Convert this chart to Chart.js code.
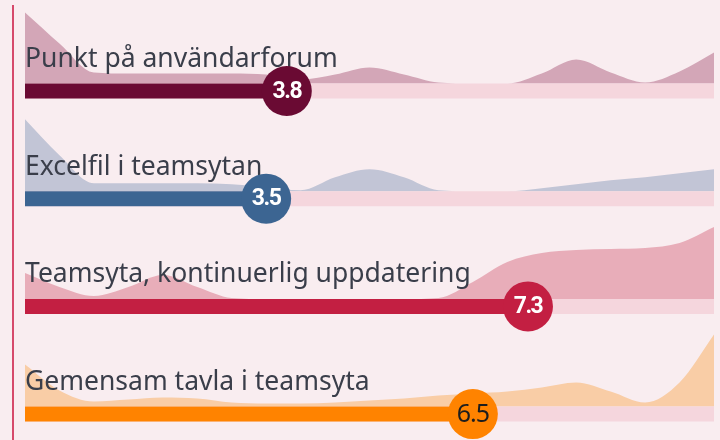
<!DOCTYPE html>
<html>
<head>
<meta charset="utf-8">
<script src="https://cdn.jsdelivr.net/npm/chart.js@4.4.1/dist/chart.umd.min.js"></script>
<style>
    html, body { margin: 0; padding: 0; background: #f9edf0; }
    #wrap { position: relative; width: 720px; height: 440px; }
    #rule { position: absolute; left: 12px; top: 5px; width: 2px; height: 435px; background: #d64a6b; }
    canvas { position: absolute; left: 0; top: 0; }
</style>
</head>
<body>
<div id="wrap">
    <div id="rule"></div>
    <canvas id="chart" width="720" height="440"></canvas>
</div>
<script>
// answer categories and their average score (0-10)
const categories = [
    'Punkt på användarforum',
    'Excelfil i teamsytan',
    'Teamsyta, kontinuerlig uppdatering',
    'Gemensam tavla i teamsyta'
];
const scores = [3.8, 3.5, 7.3, 6.5];

// score positions where the answer distribution is sampled
const scorePoints = [0, 0.5, 1, 1.5, 2, 2.5, 3, 3.5, 4, 4.5, 5, 5.5, 6, 6.5, 7, 7.5, 8, 8.5, 9, 9.5, 10];

// distribution of answers along the scale, one list per category
const distPunkt    = [71, 40, 11, 10, 10, 10, 10, 9, 4, 9, 16, 9, 1, 0, 0, 10, 24, 11, 1, 12, 31];
const distExcel    = [72, 36, 8, 8, 8, 8, 7, 4, 1, 14, 22, 14, 1, 0, 0, 3, 7, 11, 14, 18, 22];
const distTeamsyta = [26, 12, 3, 12, 24, 12, 1, 0, 0, 0, 0, 0, 1, 17, 37, 46, 49, 50, 51, 56, 72];
const distTavla    = [42, 16, 5, 7, 9, 8, 4, 3, 3, 4, 6, 8, 11, 13, 15, 19, 24, 15, 4, 24, 72];

const distributions = [distPunkt, distExcel, distTeamsyta, distTavla];

const darkColors = ['#6a0a33', '#3c6592', '#c31f42', '#ff8300'];
const areaColors = ['#d3a6b7', '#c2c5d6', '#e8adb9', '#f9cda6'];
const trackColor = '#f5d6dd';
const valueTextColors = ['#ffffff', '#ffffff', '#ffffff', '#1d1d1d'];

const ROW_STEP = 107.7;
const BAR_WIDTH = 15;

let datasets = [];
categories.forEach((name, i) => {
    const center = i * ROW_STEP;
    const base = center - BAR_WIDTH / 2;
    datasets.push({
        role: 'area',
        data: scorePoints.map((x, k) => ({x: x, y: base - distributions[i][k]})),
        fill: {value: base},
        backgroundColor: areaColors[i],
        borderWidth: 0,
        pointRadius: 0,
        cubicInterpolationMode: 'monotone',
        order: 4
    });
    datasets.push({
        role: 'track',
        data: [{x: 0, y: center}, {x: 10, y: center}],
        borderColor: trackColor,
        borderWidth: BAR_WIDTH,
        pointRadius: 0,
        fill: false,
        order: 3
    });
    datasets.push({
        role: 'bar',
        data: [{x: 0, y: center}, {x: scores[i], y: center}],
        borderColor: darkColors[i],
        borderWidth: BAR_WIDTH,
        pointRadius: 0,
        fill: false,
        order: 2
    });
    datasets.push({
        role: 'dot',
        row: i,
        data: [{x: scores[i], y: center}],
        showLine: false,
        pointRadius: 25,
        pointBackgroundColor: darkColors[i],
        pointBorderWidth: 0,
        clip: false,
        order: 1
    });
});

let labelsDrawn = false;
const labelPlugin = {
    id: 'labels',
    beforeDatasetsDraw() { labelsDrawn = false; },
    beforeDatasetDraw(chart, args) {
        const ds = chart.data.datasets[args.index];
        if (ds.role !== 'track' || labelsDrawn) return;
        labelsDrawn = true;
        const ctx = chart.ctx;
        const y = chart.scales.y;
        const left = chart.chartArea.left;
        ctx.save();
        ctx.font = '400 26.5px "Noto Sans"';
        ctx.fillStyle = '#3a3e4a';
        ctx.textAlign = 'left';
        ctx.textBaseline = 'alphabetic';
        categories.forEach((name, i) => {
            ctx.fillText(name, left, y.getPixelForValue(i * ROW_STEP) - 24);
        });
        ctx.restore();
    },
    afterDatasetsDraw(chart) {
        const ctx = chart.ctx;
        ctx.save();
        ctx.textAlign = 'center';
        ctx.textBaseline = 'middle';
        chart.data.datasets.forEach((ds, idx) => {
            if (ds.role !== 'dot') return;
            const pt = chart.getDatasetMeta(idx).data[0];
            const i = ds.row;
            ctx.fillStyle = valueTextColors[i];
            if (i === 3) {
                ctx.font = '400 25px "Noto Sans"';
                ctx.letterSpacing = '-1px';
            } else {
                ctx.font = '700 23px Roboto';
                ctx.letterSpacing = '-1.5px';
            }
            ctx.fillText(scores[i].toFixed(1), pt.x, pt.y + 1);
        });
        ctx.restore();
    }
};

new Chart(document.getElementById('chart'), {
    type: 'line',
    data: {datasets: datasets},
    options: {
        responsive: false,
        animation: false,
        events: [],
        layout: {autoPadding: false, padding: {left: 25, right: 6, top: 0, bottom: 0}},
        plugins: {
            legend: {display: false},
            tooltip: {enabled: false}
        },
        scales: {
            x: {type: 'linear', min: 0, max: 10, display: false},
            y: {type: 'linear', min: -91, max: 349, reverse: true, display: false}
        }
    },
    plugins: [labelPlugin]
});
</script>
</body>
</html>
